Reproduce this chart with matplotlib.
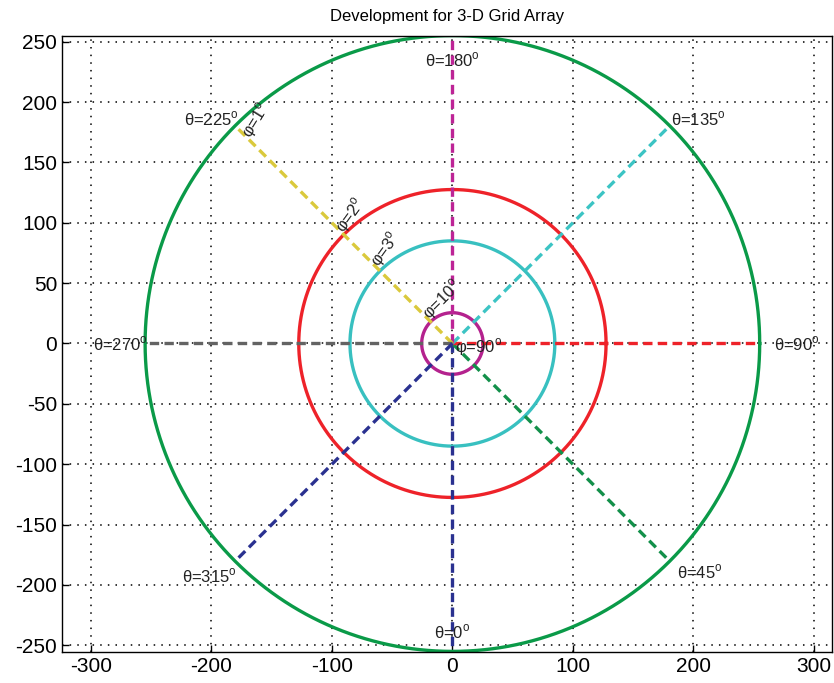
import numpy as np
import matplotlib.pyplot as plt

plt.rcParams['font.family'] = ['Liberation Sans', 'DejaVu Sans']
plt.rcParams['mathtext.fontset'] = 'custom'
plt.rcParams['mathtext.rm'] = 'Liberation Sans'
plt.rcParams['axes.unicode_minus'] = False

# circle radii for each elevation step phi
phi_deg = [1, 2, 3, 10]
radii = [255, 127.5, 85, 25.5]
circle_colors = ['#0a9a48', '#ee2229', '#38c0c0', '#b4228e']

# radial azimuth lines (theta measured from -y, clockwise toward +x)
theta_deg = [0, 45, 90, 135, 180, 225, 270, 315]
line_colors = ['#2a3190', '#13904a', '#ee2229', '#3cc4c4',
               '#bd2496', '#dac93c', '#636363', '#2a3190']
R = 255

fig = plt.figure(figsize=(8.34, 6.83), dpi=100)
ax = fig.add_axes([0.0743, 0.0454, 0.9233, 0.9016])

t = np.linspace(0, 2 * np.pi, 721)
for r, c in zip(radii, circle_colors):
    ax.plot(r * np.cos(t), r * np.sin(t), color=c, lw=2.4)

for th, c in zip(theta_deg, line_colors):
    a = np.radians(th)
    ax.plot([0, R * np.sin(a)], [0, -R * np.cos(a)], color=c, lw=2.4,
            dashes=(2.8, 1.6))

# theta labels: (ha, va, dx, dy) offsets in points
theta_place = {
    0: ('center', 'bottom', 0, 7),
    45: ('left', 'top', 5, -1),
    90: ('left', 'center', 10, 0),
    135: ('left', 'bottom', 1, -2),
    180: ('center', 'top', 0, -11),
    225: ('right', 'bottom', 3, -2),
    270: ('right', 'center', 2, 0),
    315: ('right', 'top', 1, -4),
}
for th in theta_deg:
    a = np.radians(th)
    ha, va, dx, dy = theta_place[th]
    ax.annotate('θ=%d$^{\\rm o}$' % th, (R * np.sin(a), -R * np.cos(a)),
                xytext=(dx, dy), textcoords='offset points',
                ha=ha, va=va, fontsize=12, color='#222222',
                annotation_clip=False)

# phi labels along the 225 degree line
phi_shift = [-12, 5, 7, 6]
phi_rot = [58, 54, 54, 45]
for p, r, s, rot in zip(phi_deg, radii, phi_shift, phi_rot):
    rr = r + s
    ax.text(-rr * np.sin(np.radians(45)), rr * np.cos(np.radians(45)),
            'φ=%d$^{\\rm o}$' % p, rotation=rot, rotation_mode='anchor',
            ha='left', va='center', fontsize=12, color='#222222')

ax.text(2, -3, 'φ=90$^{\\rm o}$', ha='left', va='center',
        fontsize=12, color='#222222')

ax.set_xlim(-324, 315)
ax.set_ylim(-255.5, 254.5)
ax.set_xticks(np.arange(-300, 301, 100))
ax.set_yticks(np.arange(-250, 251, 50))
ax.tick_params(direction='in', length=5, labelsize=15, width=1)
ax.grid(True, color='black', linestyle=(0, (1, 4)), lw=1.1)
for s in ax.spines.values():
    s.set_linewidth(1)

ax.set_title('Development for 3-D Grid Array', fontsize=12, pad=11)

fig.savefig('out.png', dpi=100)
